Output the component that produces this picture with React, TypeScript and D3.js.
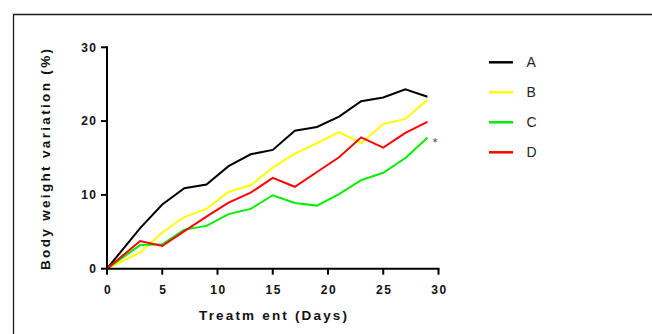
import React from "react"
import * as d3 from "d3"

// ── Data ───────────────────────────────────────────────────────────────────────

const days = [0, 3, 5, 7, 9, 11, 13, 15, 17, 19, 21, 23, 25, 27, 29]
const seriesA = [0, 5.5, 8.7, 10.9, 11.4, 13.9, 15.5, 16.1, 18.7, 19.2, 20.6, 22.7, 23.2, 24.3, 23.3]
const seriesB = [0, 2.2, 4.9, 7.0, 8.1, 10.4, 11.3, 13.7, 15.6, 17.0, 18.5, 17.0, 19.6, 20.3, 22.9]
const seriesC = [0, 3.2, 3.3, 5.3, 5.8, 7.4, 8.1, 9.95, 8.9, 8.55, 10.1, 12.0, 13.0, 15.0, 17.75]
const seriesD = [0, 3.75, 3.07, 5.1, 7.05, 8.95, 10.3, 12.3, 11.1, 13.1, 15.1, 17.8, 16.4, 18.4, 19.9]
const seriesNames = ["A", "B", "C", "D"]
const seriesColors = ["#000000", "#ffff00", "#00ee00", "#ff0000"]
const xTicks = [0, 5, 10, 15, 20, 25, 30]
const yTicks = [0, 10, 20, 30]

const W = 652
const H = 334

export default function App() {
  const x = d3.scaleLinear().domain([0, 30]).range([107, 438.5])
  const y = d3.scaleLinear().domain([0, 30]).range([268.7, 47.3])

  const line = d3
    .line<number>()
    .x((_, i) => x(days[i]))
    .y(v => y(v))

  const all = [seriesA, seriesB, seriesC, seriesD]
  const tickFont = "'Liberation Sans', Arial, sans-serif"

  return (
    <div style={{ position: "absolute", left: 0, top: 0 }}>
      <svg width={W} height={H} style={{ display: "block", background: "#fff" }}>
        {/* outer frame (runs off right and bottom) */}
        <path d={`M${W},14.5H13.5V${H}`} fill="none" stroke="#1a1a1a" strokeWidth={1.3} />

        {/* series */}
        {all.map((s, i) => (
          <path
            key={seriesNames[i]}
            d={line(s) || ""}
            fill="none"
            stroke={seriesColors[i]}
            strokeWidth={2}
            strokeLinejoin="miter"
          />
        ))}

        {/* axes */}
        <line x1={x(0)} x2={x(0)} y1={y(30) - 1} y2={y(0) + 1} stroke="#000" strokeWidth={2} />
        <line x1={x(0) - 1} x2={x(30) + 1} y1={y(0)} y2={y(0)} stroke="#000" strokeWidth={2} />

        {yTicks.map(t => (
          <g key={`y${t}`}>
            <line x1={x(0) - 6} x2={x(0)} y1={y(t)} y2={y(t)} stroke="#000" strokeWidth={2} />
            <text
              x={97.5}
              y={y(t)}
              dy="0.36em"
              textAnchor="end"
              fontFamily={tickFont}
              fontWeight="bold"
              fontSize={12}
              letterSpacing={1.5}
              fill="#111"
            >
              {t}
            </text>
          </g>
        ))}

        {xTicks.map(t => (
          <g key={`x${t}`}>
            <line x1={x(t)} x2={x(t)} y1={y(0)} y2={y(0) + 6} stroke="#000" strokeWidth={2} />
            <text
              x={x(t) + 1}
              y={294}
              textAnchor="middle"
              fontFamily={tickFont}
              fontWeight="bold"
              fontSize={12}
              letterSpacing={1.5}
              fill="#111"
            >
              {t}
            </text>
          </g>
        ))}

        {/* axis titles */}
        <text
          x={199}
          y={320}
          textLength={148}
          lengthAdjust="spacing"
          fontFamily={tickFont}
          fontWeight="bold"
          fontSize={13.5}
          fill="#111"
        >
          Treatm ent (Days)
        </text>
        <text
          transform="translate(50,270) rotate(-90)"
          textLength={221}
          lengthAdjust="spacing"
          fontFamily={tickFont}
          fontWeight="bold"
          fontSize={13.5}
          fill="#111"
        >
          Body weight variation (%)
        </text>

        {/* significance mark */}
        <text x={435} y={147} textAnchor="middle" fontFamily={tickFont} fontSize={13} fill="#555">
          *
        </text>

        {/* legend */}
        {seriesNames.map((n, i) => (
          <g key={`lg${n}`} transform={`translate(0,${62.3 + i * 30})`}>
            <line x1={489} x2={513} y1={0} y2={0} stroke={seriesColors[i]} strokeWidth={2.5} />
            <text
              x={526.5}
              y={0}
              dy="0.36em"
              fontFamily={tickFont}
              fontSize={14}
              fill="#222"
            >
              {n}
            </text>
          </g>
        ))}
      </svg>
    </div>
  )
}
